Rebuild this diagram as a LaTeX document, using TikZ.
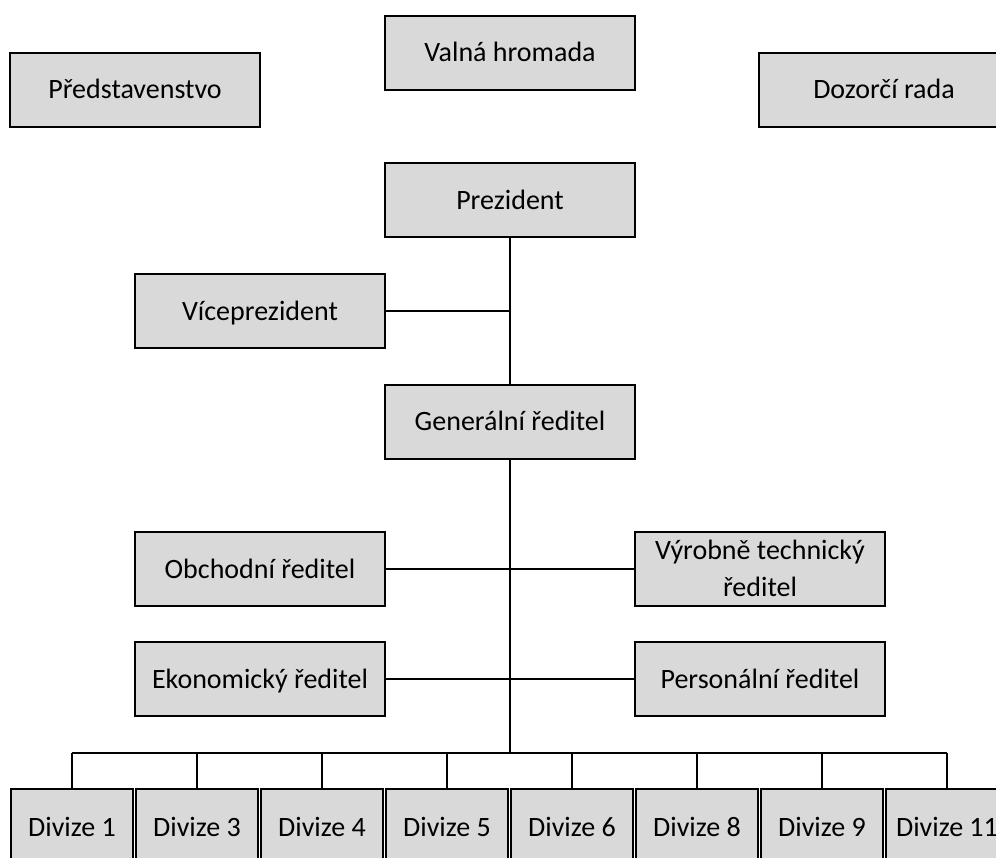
\documentclass[tikz,border=0pt]{standalone}
\usepackage{fontspec}
\setmainfont{Carlito}
\definecolor{boxgray}{HTML}{D9D9D9}
\newcommand\mystrut{\rule[-6.775pt]{0pt}{27.75pt}}
\begin{document}
\begin{tikzpicture}[x=0.75pt,y=-0.75pt,
  box/.style={draw=black, line width=1.5pt, fill=boxgray, minimum width=187.5pt,
    minimum height=55.5pt, inner sep=0pt, outer sep=0pt, align=center,
    font=\fontsize{21}{27.75}\selectfont},
  divbox/.style={box, minimum width=91.5pt, minimum height=57pt},
  conn/.style={draw=black, line width=1.5pt}]
\clip (0,0) rectangle (996,857);
\fill[white] (0,0) rectangle (996,857);
% top row
\node[box] (pred) at (135,89.5) {\mystrut Představenstvo};
\node[box] (valna) at (510,52.5) {\mystrut Valná hromada};
\node[box] (dozor) at (884,89.5) {\mystrut Dozorčí rada};
% hierarchy
\node[box] (prez) at (510,200) {\mystrut Prezident};
\node[box] (vice) at (260,311) {\mystrut Víceprezident};
\node[box] (gen) at (510,421.5) {\mystrut Generální ředitel};
\node[box] (obch) at (260,569) {\mystrut Obchodní ředitel};
\node[box] (vyr) at (760,569) {\mystrut Výrobně technický\\\mystrut ředitel};
\node[box] (ekon) at (260,679) {\mystrut Ekonomický ředitel};
\node[box] (pers) at (760,679) {\mystrut Personální ředitel};
% divisions
\node[divbox] (d1) at (72,827) {\mystrut Divize 1};
\node[divbox] (d3) at (197,827) {\mystrut Divize 3};
\node[divbox] (d4) at (322,827) {\mystrut Divize 4};
\node[divbox] (d5) at (447,827) {\mystrut Divize 5};
\node[divbox] (d6) at (572,827) {\mystrut Divize 6};
\node[divbox] (d8) at (697,827) {\mystrut Divize 8};
\node[divbox] (d9) at (822,827) {\mystrut Divize 9};
\node[divbox] (d11) at (947,827) {\mystrut Divize 11};
% connectors
\coordinate (tv) at (510,311);
\coordinate (bus) at (510,753);
\draw[conn] (prez.south) -- (gen.north);
\draw[conn] (vice.east) -- (tv);
\draw[conn] (gen.south) -- (bus);
\draw[conn] (obch.east) -- (vyr.west);
\draw[conn] (ekon.east) -- (pers.west);
\draw[conn] (d1.north |- bus) -- (d11.north |- bus);
\foreach \d in {d1,d3,d4,d5,d6,d8,d9,d11}{
  \draw[conn] (\d.north) -- (\d.north |- bus);
}
\end{tikzpicture}
\end{document}
